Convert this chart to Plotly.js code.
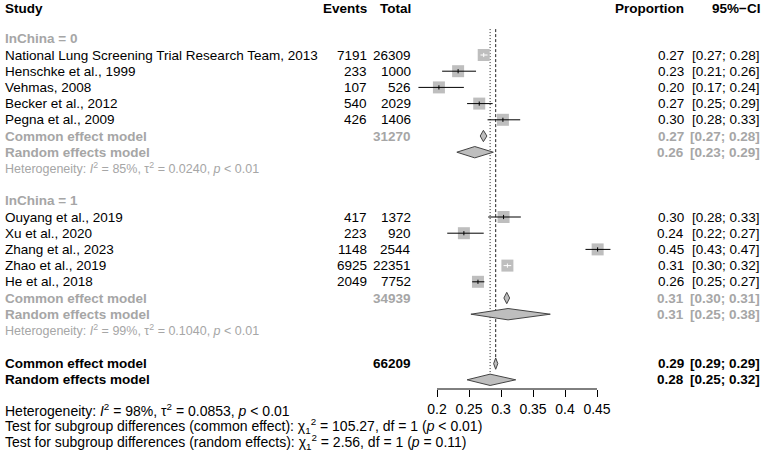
<!DOCTYPE html>
<html>
<head>
<meta charset="utf-8">
<script src="https://cdn.plot.ly/plotly-3.0.1.min.js"></script>
<style>html,body{margin:0;padding:0;background:#fff;}#chart{width:765px;height:455px;}</style>
</head>
<body>
<div id="chart"></div>
<script>
// ---------- data ----------
const studyLabels = ["National Lung Screening Trial Research Team, 2013","Henschke et al., 1999","Vehmas, 2008","Becker et al., 2012","Pegna et al., 2009","Ouyang et al., 2019","Xu et al., 2020","Zhang et al., 2023","Zhao et al., 2019","He et al., 2018"];
const groupOf = [0,0,0,0,0,1,1,1,1,1];
const events = [7191,233,107,540,426,417,223,1148,6925,2049];
const totals = [26309,1000,526,2029,1406,1372,920,2544,22351,7752];
const prop  = [0.273,0.233,0.203,0.266,0.303,0.304,0.242,0.451,0.310,0.264];
const lower = [0.268,0.208,0.171,0.247,0.279,0.280,0.216,0.432,0.304,0.255];
const upper = [0.279,0.261,0.242,0.287,0.330,0.331,0.273,0.471,0.316,0.274];
const propText = ["0.27","0.23","0.20","0.27","0.30","0.30","0.24","0.45","0.31","0.26"];
const ciText = ["[0.27; 0.28]","[0.21; 0.26]","[0.17; 0.24]","[0.25; 0.29]","[0.28; 0.33]","[0.28; 0.33]","[0.22; 0.27]","[0.43; 0.47]","[0.30; 0.32]","[0.25; 0.27]"];

const groupNames = ["InChina = 0","InChina = 1"];
const groupTotals = ["31270","34939"];
const commonEst = [0.2725,0.309], commonLo = [0.2675,0.3045], commonHi = [0.278,0.3135];
const randomEst = [0.259,0.311], randomLo = [0.231,0.253], randomHi = [0.288,0.377];
const commonPropText = ["0.27","0.31"], commonCiText = ["[0.27; 0.28]","[0.30; 0.31]"];
const randomPropText = ["0.26","0.31"], randomCiText = ["[0.23; 0.29]","[0.25; 0.38]"];
const hetText = [
  "Heterogeneity: <i>I</i><sup>2</sup> = 85%, τ<sup>2</sup> = 0.0240, <i>p</i> &lt; 0.01",
  "Heterogeneity: <i>I</i><sup>2</sup> = 99%, τ<sup>2</sup> = 0.1040, <i>p</i> &lt; 0.01"
];
const overallTotal = "66209";
const overallCommon = {est:0.2917, lo:0.2885, hi:0.2950, p:"0.29", ci:"[0.29; 0.29]"};
const overallRandom = {est:0.283, lo:0.247, hi:0.323, p:"0.28", ci:"[0.25; 0.32]"};
const bottomText = [
  "Heterogeneity: <i>I</i><sup>2</sup> = 98%, τ<sup>2</sup> = 0.0853, <i>p</i> &lt; 0.01",
  "Test for subgroup differences (common effect): χ<sub>1</sub><sup>2</sup> = 105.27, df = 1 (<i>p</i> &lt; 0.01)",
  "Test for subgroup differences (random effects): χ<sub>1</sub><sup>2</sup> = 2.56, df = 1 (<i>p</i> = 0.11)"
];
const tickVals = [0.2,0.25,0.3,0.35,0.4,0.45];
const tickText = ["0.2","0.25","0.3","0.35","0.4","0.45"];

// ---------- layout geometry ----------
const W = 765, H = 455;
const row0Px = 55, rowH = 16.2;          // pixel y of first study row, row height
const pxPerUnit = 640, x02Px = 437;      // 0.2 at 437px, 0.05 per 32px
const xMin = 0.2 - x02Px/pxPerUnit, xMax = xMin + W/pxPerUnit;
const yTop = -row0Px/rowH, yBot = (H-row0Px)/rowH;
const axisPx = 389;
const axisRow = (axisPx-row0Px)/rowH;
const GRAY = "#a6a6a6", BOXC = "#bebebe";
const FONT = "Liberation Sans, Arial, Helvetica, sans-serif";
const FS = 13.5, FSB = 13.5, FSH = 12.5, FSBOT = 14;
const sqUnits = 12/pxPerUnit;

function studyRow(i){ const g = groupOf[i]; const idx = groupOf.slice(0,i).filter(v=>v===g).length; return g*10 + idx; }

const traces = [];
const annotations = [];
function ann(text, px, row, anchor, color, bold, size){
  annotations.push({text: bold ? "<b>"+text+"</b>" : text, x: px/W, xref:"paper", y: row, yref:"y",
    xanchor: anchor, yanchor:"middle", showarrow:false, borderpad:0,
    font:{family:FONT, size: size || (bold ? FSB : FS), color:color||"#000"}});
}

// headers
const hdrRow = -2.85;
ann("Study", 4, hdrRow, "left", "#000", true);
ann("Events", 368, hdrRow, "right", "#000", true);
ann("Total", 412, hdrRow, "right", "#000", true);
ann("Proportion", 685, hdrRow, "right", "#000", true);
ann("95%−CI", 761, hdrRow, "right", "#000", true);

// reference lines
traces.push({x:[overallRandom.est, overallRandom.est], y:[-1.6, 20.3], mode:"lines", line:{color:"#222", width:1, dash:"1px,2px"}, hoverinfo:"skip"});
traces.push({x:[overallCommon.est, overallCommon.est], y:[-1.6, 19.0], mode:"lines", line:{color:"#222", width:1, dash:"3px,2px"}, hoverinfo:"skip"});

// squares
const sqRows = studyLabels.map((_,i)=>studyRow(i));
traces.push({x:prop, y:sqRows, mode:"markers", marker:{symbol:"square", size:12, color:BOXC, line:{width:0}}, hoverinfo:"skip"});
// CI lines
studyLabels.forEach((s,i)=>{
  const inside = (upper[i]-lower[i]) < sqUnits;
  traces.push({x:[lower[i], upper[i]], y:[sqRows[i], sqRows[i]], mode:"lines", line:{color: inside ? "#fff" : "#000", width:1}, hoverinfo:"skip"});
});
// estimate ticks
traces.push({x:prop, y:sqRows, mode:"markers", marker:{symbol:"line-ns", size:3,
  line:{width:1, color: studyLabels.map((_,i)=> (upper[i]-lower[i]) < sqUnits ? "#fff" : "#000")}}, hoverinfo:"skip"});

// diamonds
const dh = 0.35;
function diamond(est, lo, hi, row){
  traces.push({x:[lo, est, hi, est, lo], y:[row, row-dh, row, row+dh, row], mode:"lines", fill:"toself",
    fillcolor:BOXC, line:{color:"#444", width:1}, hoverinfo:"skip"});
}

// study text
studyLabels.forEach((s,i)=>{
  const r = sqRows[i];
  ann(s, 4, r, "left");
  ann(String(events[i]), 368, r, "right");
  ann(String(totals[i]), 412, r, "right");
  ann(propText[i], 685, r, "right");
  ann(ciText[i], 761, r, "right");
});

// subgroup rows
[0,1].forEach(g=>{
  const base = g*10;
  ann(groupNames[g], 4, base-1, "left", GRAY, true);
  ann("Common effect model", 4, base+5, "left", GRAY, true);
  ann(groupTotals[g], 412, base+5, "right", GRAY, true);
  ann(commonPropText[g], 685, base+5, "right", GRAY, true);
  ann(commonCiText[g], 761, base+5, "right", GRAY, true);
  ann("Random effects model", 4, base+6, "left", GRAY, true);
  ann(randomPropText[g], 685, base+6, "right", GRAY, true);
  ann(randomCiText[g], 761, base+6, "right", GRAY, true);
  ann(hetText[g], 4, base+7, "left", GRAY, false, FSH);
  diamond(commonEst[g], commonLo[g], commonHi[g], base+5);
  diamond(randomEst[g], randomLo[g], randomHi[g], base+6);
});

// overall
ann("Common effect model", 4, 19.05, "left", "#000", true);
ann(overallTotal, 412, 19.05, "right", "#000", true);
ann(overallCommon.p, 685, 19.05, "right", "#000", true);
ann(overallCommon.ci, 761, 19.05, "right", "#000", true);
ann("Random effects model", 4, 20.05, "left", "#000", true);
ann(overallRandom.p, 685, 20.05, "right", "#000", true);
ann(overallRandom.ci, 761, 20.05, "right", "#000", true);
diamond(overallCommon.est, overallCommon.lo, overallCommon.hi, 19.05);
diamond(overallRandom.est, overallRandom.lo, overallRandom.hi, 20.05);

bottomText.forEach((t,k)=> ann(t, 4, 21.9 + k, "left", "#000", false, FSBOT));

const layout = {
  width: W, height: H,
  margin:{l:0, r:0, t:0, b:0, pad:0},
  paper_bgcolor:"#fff", plot_bgcolor:"rgba(0,0,0,0)",
  showlegend:false,
  font:{family:FONT, size:FS, color:"#000"},
  xaxis:{range:[xMin, xMax], domain:[0,1], anchor:"free", position: 1 - axisPx/H,
    showgrid:false, zeroline:false, showline:false,
    tickmode:"array", tickvals:tickVals, ticktext:tickText,
    ticks:"outside", ticklen:7, tickwidth:1, tickcolor:"#000",
    tickfont:{family:FONT, size:14, color:"#000"}},
  yaxis:{range:[yBot, yTop], domain:[0,1], visible:false, showgrid:false, zeroline:false},
  shapes:[{type:"line", xref:"x", yref:"y", x0:tickVals[0], x1:tickVals[tickVals.length-1], y0:axisRow, y1:axisRow,
    line:{color:"#000", width:1}}],
  annotations: annotations
};
Plotly.newPlot("chart", traces, layout, {staticPlot:true, displayModeBar:false});
</script>
</body>
</html>
